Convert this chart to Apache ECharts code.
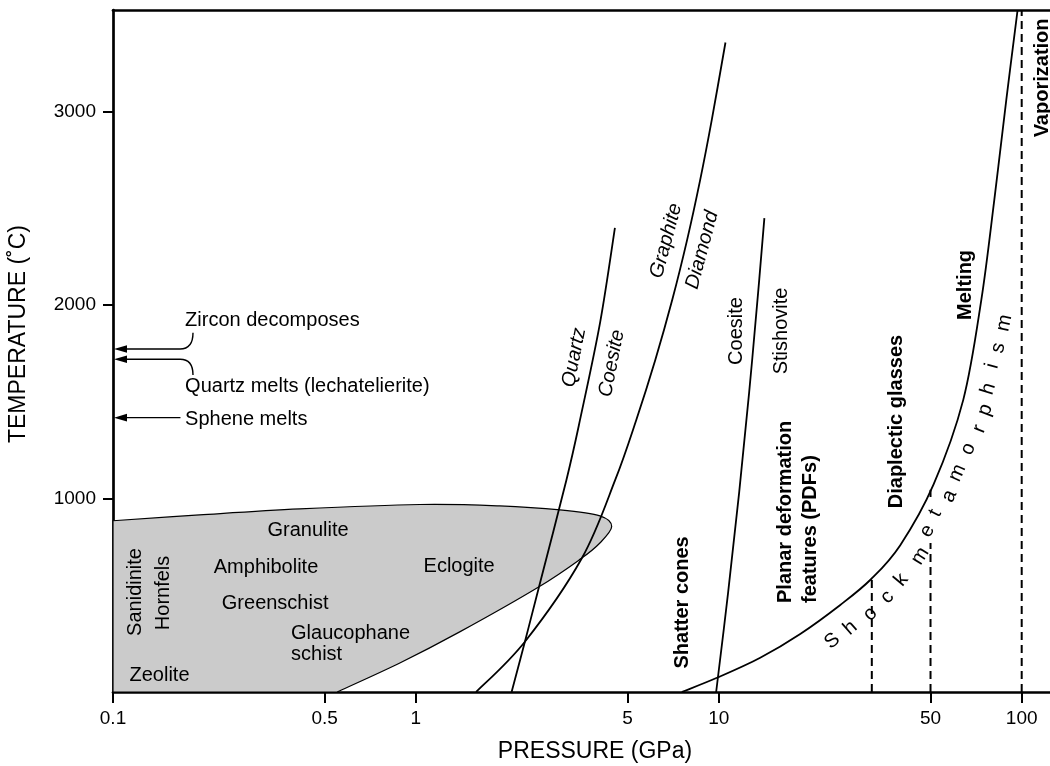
<!DOCTYPE html>
<html><head><meta charset="utf-8">
<script src="https://cdn.jsdelivr.net/npm/echarts@6/dist/echarts.min.js"></script>
<style>html,body{margin:0;padding:0;background:#fff}#c{width:1050px;height:766px}</style>
</head><body><div id="c"></div>
<script>
// ---------- data (pressure GPa, temperature °C) ----------
const xTicks = [0.1, 0.5, 1, 5, 10, 50, 100];
const yTicks = [1000, 2000, 3000];

const quartzCoesite = [[2.07,0],[2.29,260],[2.55,544],[3.14,1096],[3.5,1423],[4.06,1913],[4.54,2399]];
const graphiteDiamond = [[1.58,0],[2.29,260],[3.53,691],[4.55,1096],[5.34,1406],[6.17,1716],[7.02,2027],[7.86,2337],[8.68,2647],[9.48,2957],[10.52,3357]];
const coesiteStishovite = [[9.80,0],[10.74,517],[11.68,1034],[12.60,1551],[13.49,2068],[14.14,2449]];
const meltingCurve = [[7.55,0],[9.95,76],[13.70,177],[18.57,300],[25.18,450],[31.86,584],[39.73,759],[51.18,1073],[64.13,1510],[73.57,2027],[81.20,2544],[88.95,3061],[96.94,3526]];

// metamorphic facies field outline (closed down to the axes)
const faciesOutline = [[0.1,885],[0.193,915],[0.414,946],[1.03,969],[1.89,962],[2.99,941],[4.05,910],[4.43,855],[4.05,770],[3.52,691],[2.55,544],[1.40,312],[0.885,150],[0.549,0]];
const faciesCorner = [0.1, 0];

// dashed boundaries
const dashedLines = [[[32,0],[32,584]], [[50,0],[50,770]], [[50,1008],[50,1045]], [[100,0],[100,3525]]];

// arrows at the temperature axis
const arrowTips = [[0.1,1773],[0.1,1720],[0.1,1418]];
const arrowCorners = [[0.1665,1773],[0.1665,1720],[0.167,1418]];
const arrowHooks = [[0.1837,1857],[0.1837,1639],null];

// text labels: [P, T, text, rotation deg, kind, align]
const labels = [
 [0.173, 1918, 'Zircon decomposes', 0, 'n', 'left'],
 [0.173, 1577, 'Quartz melts (lechatelierite)', 0, 'n', 'left'],
 [0.173, 1406, 'Sphene melts', 0, 'n', 'left'],
 [0.4406, 834, 'Granulite', 0, 'n', 'center'],
 [0.320, 646, 'Amphibolite', 0, 'n', 'center'],
 [0.343, 455, 'Greenschist', 0, 'n', 'center'],
 [0.387, 300, 'Glaucophane', 0, 'n', 'left'],
 [0.387, 196, 'schist', 0, 'n', 'left'],
 [1.389, 651, 'Eclogite', 0, 'n', 'center'],
 [0.1424, 83, 'Zeolite', 0, 'n', 'center'],
 [0.1182, 517, 'Sanidinite', 90, 'n', 'center'],
 [0.1463, 512, 'Hornfels', 90, 'n', 'center'],
 [3.33, 1729, 'Quartz', 79, 'i', 'center'],
 [4.436, 1699, 'Coesite', 79, 'i', 'center'],
 [6.703, 2332, 'Graphite', 75, 'i', 'center'],
 [8.815, 2285, 'Diamond', 75, 'i', 'center'],
 [11.48, 1866, 'Coesite', 90, 'n', 'center'],
 [16.07, 1866, 'Stishovite', 90, 'n', 'center'],
 [7.57, 463, 'Shatter cones', 90, 'b', 'center'],
 [16.57, 460, 'Planar deformation', 90, 'b', 'left'],
 [20.04, 460, 'features (PDFs)', 90, 'b', 'left'],
 [38.69, 1398, 'Diaplectic glasses', 90, 'b', 'center'],
 [65.11, 2104, 'Melting', 90, 'b', 'center'],
 [116.7, 3174, 'Vaporization', 90, 'b', 'center']
];

// "Shock metamorphism" spread along the curve: [P, T, char, rotation deg]
const shockLetters = [
 [23.68,264,'S',40],[27.16,331,'h',41],[31.62,403,'o',43],[35.98,491,'c',46],[40.04,579,'k',50],
 [46.25,703,'m',58],[48.78,832,'e',62],[51.84,925,'t',64],[57.67,1013,'a',65],[61.28,1132,'m',66],
 [66.62,1256,'o',66],[72.44,1360,'r',68],[75.83,1458,'p',70],[77.58,1567,'h',73],[79.97,1685,'i',75],
 [83.7,1778,'s',77],[87.61,1908,'m',78]
];

// ---------- drawing ----------
const FONT = '"Liberation Sans", Arial, Helvetica, sans-serif';
function fontFor(kind, size){
  const pre = kind === 'b' ? 'bold ' : kind === 'i' ? 'italic ' : '';
  return pre + size + 'px ' + FONT;
}
function catmull(pts){
  let d = 'M ' + pts[0][0] + ' ' + pts[0][1];
  for (let i = 0; i < pts.length - 1; i++){
    const p0 = pts[i-1] || pts[i], p1 = pts[i], p2 = pts[i+1], p3 = pts[i+2] || p2;
    const c1 = [p1[0] + (p2[0]-p0[0])/6, p1[1] + (p2[1]-p0[1])/6];
    const c2 = [p2[0] - (p3[0]-p1[0])/6, p2[1] - (p3[1]-p1[1])/6];
    d += ' C ' + c1[0] + ' ' + c1[1] + ' ' + c2[0] + ' ' + c2[1] + ' ' + p2[0] + ' ' + p2[1];
  }
  return d;
}
function curveSeries(curve){
  return {type:'custom', silent:true, z:5, clip:true, data:[curve[0]],
    renderItem:function(params, api){
      const pts = curve.map(p => api.coord(p));
      return {type:'path', shape:{pathData:catmull(pts)}, style:{fill:null, stroke:'#000', lineWidth:1.8}};
    }};
}

const chart = echarts.init(document.getElementById('c'), null, {renderer:'canvas'});
const series = [
  {
    type:'custom', silent:true, z:1, data:[faciesCorner],
    renderItem:function(params, api){
      const pts = faciesOutline.map(p => api.coord(p));
      const base = api.coord(faciesCorner);
      const d = catmull(pts) + ' L ' + base[0] + ' ' + base[1] + ' Z';
      return {type:'path', shape:{pathData:d}, style:{fill:'#cbcbcb', stroke:'#000', lineWidth:1.2}};
    }
  },
  curveSeries(quartzCoesite),
  curveSeries(graphiteDiamond),
  curveSeries(coesiteStishovite),
  curveSeries(meltingCurve)
];
dashedLines.forEach(seg => series.push({type:'line', data:seg, symbol:'none', silent:true, z:4,
  lineStyle:{color:'#000', width:2, type:[8,5]}}));
series.push({
  type:'custom', silent:true, z:6, data:arrowTips,
  renderItem:function(params, api){
    const i = params.dataIndex;
    const t = api.coord(arrowTips[i]), c = api.coord(arrowCorners[i]);
    let d = 'M ' + (t[0]+8) + ' ' + t[1] + ' L ' + c[0] + ' ' + c[1];
    if (arrowHooks[i]){
      const h = api.coord(arrowHooks[i]);
      d += ' Q ' + h[0] + ' ' + c[1] + ' ' + h[0] + ' ' + h[1];
    }
    return {type:'group', children:[
      {type:'path', shape:{pathData:d}, style:{fill:null, stroke:'#000', lineWidth:1.4}},
      {type:'polygon', shape:{points:[[t[0]+1,t[1]],[t[0]+14,t[1]-3.8],[t[0]+14,t[1]+3.8]]}, style:{fill:'#000'}}
    ]};
  }
});
series.push({
  type:'custom', silent:true, z:8, data:labels.map(l => [l[0], l[1]]),
  renderItem:function(params, api){
    const l = labels[params.dataIndex];
    const p = api.coord([l[0], l[1]]);
    return {type:'text', x:p[0], y:p[1], rotation:l[3]*Math.PI/180,
      style:{text:l[2], fill:'#000', font:fontFor(l[4], 20), align:l[5], verticalAlign:'middle'}};
  }
});
series.push({
  type:'custom', silent:true, z:8, data:shockLetters.map(l => [l[0], l[1]]),
  renderItem:function(params, api){
    const l = shockLetters[params.dataIndex];
    const p = api.coord([l[0], l[1]]);
    return {type:'text', x:p[0], y:p[1], rotation:l[3]*Math.PI/180,
      style:{text:l[2], fill:'#000', font:fontFor('n', 20), align:'center', verticalAlign:'middle'}};
  }
});

chart.setOption({
  animation:false,
  backgroundColor:'#fff',
  grid:{left:113, right:0, top:10, bottom:74, containLabel:false, outerBoundsMode:'none'},
  xAxis:[{
    type:'log', logBase:10, min:0.1, max:124,
    name:'PRESSURE (GPa)', nameLocation:'middle', nameGap:48,
    nameTextStyle:{fontFamily:FONT, fontSize:23, color:'#000', padding:[0,0,0,27]},
    axisLine:{show:true, onZero:false, lineStyle:{color:'#000', width:2.7}},
    axisTick:{show:true, length:11, customValues:xTicks, lineStyle:{color:'#000', width:2}},
    axisLabel:{color:'#000', fontFamily:FONT, fontSize:19, margin:17, customValues:xTicks,
      formatter:function(v){ return String(+(+v).toPrecision(3)); }},
    splitLine:{show:false}, minorTick:{show:false}, minorSplitLine:{show:false}
  },{
    type:'value', position:'top', min:0, max:1,
    axisLine:{show:true, onZero:false, lineStyle:{color:'#000', width:2.7}},
    axisTick:{show:false}, axisLabel:{show:false}, splitLine:{show:false}
  }],
  yAxis:{
    type:'value', min:0, max:3525, interval:1000,
    name:'TEMPERATURE (˚C)', nameLocation:'middle', nameGap:83,
    nameTextStyle:{fontFamily:FONT, fontSize:23, color:'#000', padding:[0,0,0,34]},
    axisLine:{show:true, onZero:false, lineStyle:{color:'#000', width:2.7}},
    axisTick:{show:true, length:10, customValues:yTicks, lineStyle:{color:'#000', width:2}},
    axisLabel:{color:'#000', fontFamily:FONT, fontSize:19, margin:17, customValues:yTicks,
      formatter:function(v){ return String(v); }},
    splitLine:{show:false}
  },
  series:series
});
</script></body></html>
